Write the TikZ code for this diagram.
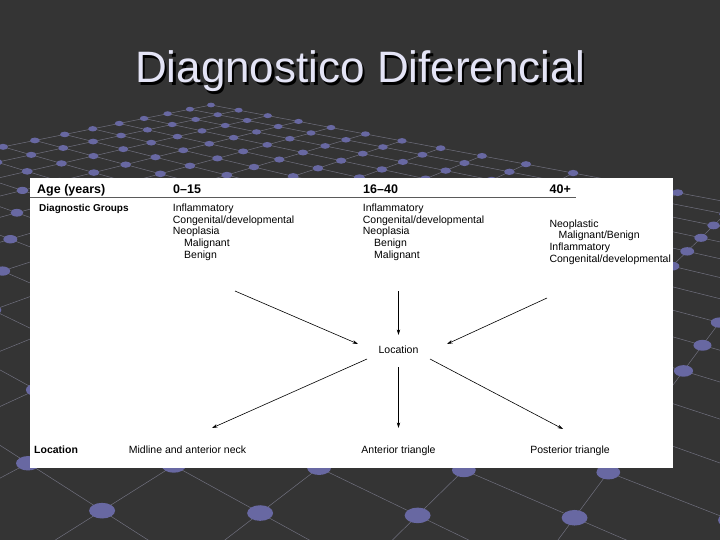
\documentclass[tikz,border=0pt]{standalone}
\usepackage{fontspec}
\setmainfont{Liberation Sans}
\usetikzlibrary{arrows.meta}
\definecolor{bg}{RGB}{52,52,52}
\definecolor{dotc}{RGB}{104,104,162}
\definecolor{gridc}{RGB}{112,112,126}
\definecolor{titlec}{RGB}{228,228,246}
\definecolor{rulec}{RGB}{90,90,90}
\begin{document}
\begin{tikzpicture}[x=1pt,y=-1pt,
  lbl/.style={font=\fontsize{10.5}{11.6}\selectfont, inner sep=0pt, anchor=base west},
  hdr/.style={font=\fontsize{12.5}{14}\selectfont\bfseries, inner sep=0pt, anchor=base west},
  sub/.style={font=\fontsize{10}{12}\selectfont\bfseries, inner sep=0pt, anchor=base west},
  bot/.style={font=\fontsize{10.5}{12}\selectfont, inner sep=0pt, anchor=base},
  arr/.style={-{Stealth[length=5.5pt,width=3.4pt]}, line width=0.6pt, black},
  gridline/.style={gridc, line width=0.5pt},
  ball/.style={fill=dotc}]
\useasboundingbox (0,0) rectangle (720,540);
\fill[bg] (0,0) rectangle (720,540);
% perspective grid of spheres (homography of an i,j lattice)
\begin{scope}
\clip (0,0) rectangle (720,540);
\foreach \i in {0,...,30}{
  \pgfmathsetmacro{\da}{1-0.025598*\i}
  \pgfmathsetmacro{\xa}{(211+21.532*\i)/\da}
  \pgfmathsetmacro{\ya}{(105+2.372*\i)/\da}
  \pgfmathsetmacro{\je}{(0.8-0.025598*\i)/0.026116}
  \pgfmathsetmacro{\xb}{(211+21.532*\i-26.074*\je)/0.2}
  \pgfmathsetmacro{\yb}{(105+2.372*\i+1.394*\je)/0.2}
  \draw[gridline] (\xa,\ya) -- (\xb,\yb);
}
\foreach \j in {0,...,30}{
  \pgfmathsetmacro{\da}{1-0.026116*\j}
  \pgfmathsetmacro{\xa}{(211-26.074*\j)/\da}
  \pgfmathsetmacro{\ya}{(105+1.394*\j)/\da}
  \pgfmathsetmacro{\ie}{(0.8-0.026116*\j)/0.025598}
  \pgfmathsetmacro{\xb}{(211+21.532*\ie-26.074*\j)/0.2}
  \pgfmathsetmacro{\yb}{(105+2.372*\ie+1.394*\j)/0.2}
  \draw[gridline] (\xa,\ya) -- (\xb,\yb);
}
\foreach \i in {0,...,30}{
  \foreach \j in {0,...,30}{
    \pgfmathsetmacro{\w}{1-0.025598*\i-0.026116*\j}
    \ifdim \w pt > 0.27pt
      \pgfmathsetmacro{\px}{(211+21.532*\i-26.074*\j)/\w}
      \pgfmathsetmacro{\py}{(105+2.372*\i+1.394*\j)/\w}
      \pgfmathsetmacro{\rx}{3.9/\w}
      \pgfmathsetmacro{\ry}{2.35/\w}
      \fill[ball] (\px,\py) ellipse [x radius=\rx pt, y radius=\ry pt];
    \fi
  }
}
\end{scope}
% title
\node[anchor=base, font=\fontsize{44}{50}\selectfont, text=black, inner sep=0pt] (titleshadow) at (362.5,85.5) {Diagnostico Diferencial};
\node[anchor=base, font=\fontsize{44}{50}\selectfont, text=titlec, inner sep=0pt] (title) at (360,83) {Diagnostico Diferencial};
% white panel
\fill[white] (30,178) rectangle (673,468);
% header
\node[hdr] (age) at (37,193.3) {Age (years)};
\node[hdr] (g1) at (173,193.3) {0\textendash15};
\node[hdr] (g2) at (363,193.3) {16\textendash40};
\node[hdr] (g3) at (549.5,193.3) {40+};
\draw[rulec, line width=1.1pt] (30,197.7) -- (576,197.7);
\node[sub] (dg) at (39,211.7) {Diagnostic Groups};
% column 1
\node[lbl] (c1a) at (172.7,211.7) {Inflammatory};
\node[lbl] (c1b) at (172.7,223.3) {Congenital/developmental};
\node[lbl] (c1c) at (172.7,235) {Neoplasia};
\node[lbl] (c1d) at (184,246.7) {Malignant};
\node[lbl] (c1e) at (184,258.3) {Benign};
% column 2
\node[lbl] (c2a) at (362.7,211.7) {Inflammatory};
\node[lbl] (c2b) at (362.7,223.3) {Congenital/developmental};
\node[lbl] (c2c) at (362.7,235) {Neoplasia};
\node[lbl] (c2d) at (374,246.7) {Benign};
\node[lbl] (c2e) at (374,258.3) {Malignant};
% column 3
\node[lbl] (c3a) at (549.3,227.5) {Neoplastic};
\node[lbl] (c3b) at (558.3,239) {Malignant/Benign};
\node[lbl] (c3c) at (549.3,250.5) {Inflammatory};
\node[lbl] (c3d) at (549.3,262) {Congenital/developmental};
% centre
\node[bot] (loc) at (398.5,353) {Location};
% bottom row
\node[font=\fontsize{10.5}{12}\selectfont\bfseries, inner sep=0pt, anchor=base west] (locb) at (34,453) {Location};
\node[bot] (l1) at (187.5,453) {Midline and anterior neck};
\node[bot] (l2) at (398.5,453) {Anterior triangle};
\node[bot] (l3) at (570,453) {Posterior triangle};
% arrow ends
\coordinate (s1) at (235,291);
\coordinate (s2) at (398.5,291);
\coordinate (s3) at (547,298);
\coordinate (t1) at (358,344);
\coordinate (t2) at (398.5,335);
\coordinate (t3) at (447,344);
\coordinate (u1) at (367,359);
\coordinate (u2) at (398.5,367);
\coordinate (u3) at (430,359);
\coordinate (v1) at (212,428);
\coordinate (v2) at (398.5,428);
\coordinate (v3) at (563,429);
\draw[arr] (s1) -- (t1);
\draw[arr] (s2) -- (t2);
\draw[arr] (s3) -- (t3);
\draw[arr] (u1) -- (v1);
\draw[arr] (u2) -- (v2);
\draw[arr] (u3) -- (v3);
\end{tikzpicture}
\end{document}
